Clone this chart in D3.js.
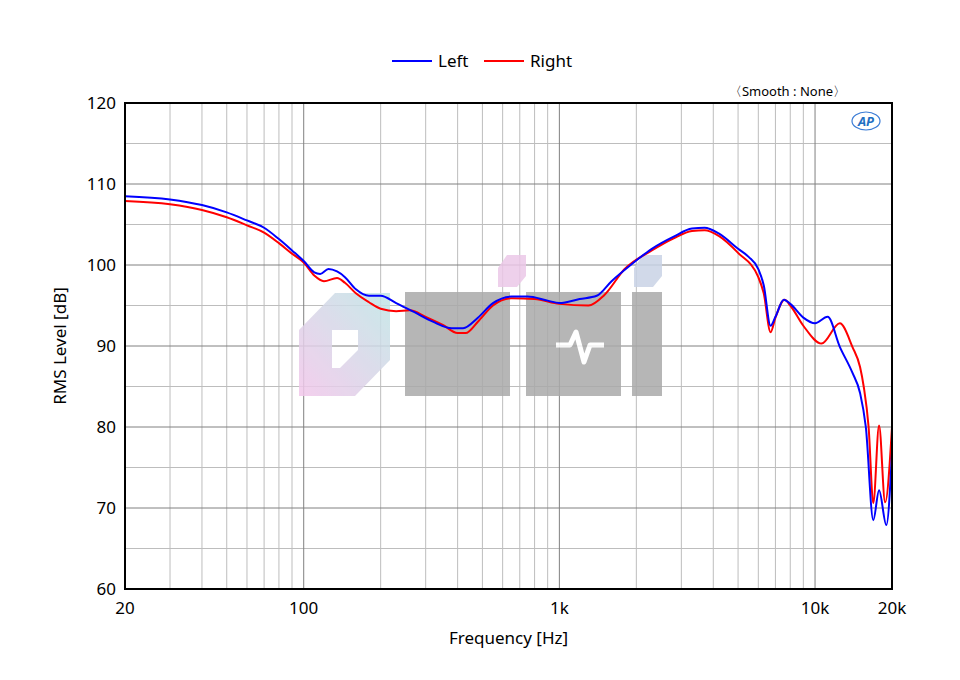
<!DOCTYPE html>
<html>
<head>
<meta charset="utf-8">
<script src="https://cdn.jsdelivr.net/npm/d3@7"></script>
<style>
  body { margin: 0; background: #fff; }
  text { font-family: "Noto Sans", "DejaVu Sans", sans-serif; }
</style>
</head>
<body>
<svg id="chart" width="960" height="680"></svg>
<script>
// Frequency response
var leftFreq = [20, 30, 40, 50, 60, 70, 80, 90, 100, 110, 116, 125, 135, 145, 160, 180, 200, 230, 270, 320, 380, 420, 480, 550, 650, 750, 900, 1000, 1200, 1400, 1600, 1900, 2300, 2800, 3300, 3700, 4200, 5000, 5500, 6000, 6300, 6700, 7000, 7550, 8000, 9000, 10000, 11200, 12500, 14000, 15000, 15800, 16900, 17800, 19000, 20000];
var leftDb = [108.5, 108.1, 107.4, 106.5, 105.5, 104.6, 103.2, 101.8, 100.5, 99.1, 98.9, 99.5, 99.2, 98.5, 97, 96.2, 96.2, 95.3, 94.2, 93, 92.2, 92.2, 93.5, 95.3, 96.1, 96.1, 95.6, 95.3, 95.8, 96.2, 98, 100, 102, 103.5, 104.5, 104.6, 103.9, 102, 101, 99.5, 97.5, 92.5, 93.6, 95.7, 95.2, 93.5, 92.8, 93.6, 89.9, 86.7, 84.2, 80, 68.5, 72.2, 67.9, 76.8];
var rightFreq = [20, 30, 40, 50, 60, 70, 80, 90, 100, 110, 120, 135, 145, 160, 180, 200, 230, 260, 300, 350, 400, 430, 480, 550, 650, 800, 1000, 1300, 1500, 1800, 2300, 2800, 3300, 3700, 4200, 5000, 6000, 6300, 6700, 7000, 7600, 8000, 9000, 10600, 12500, 14000, 15000, 15500, 16200, 16900, 17800, 18800, 20000];
var rightDb = [107.9, 107.5, 106.8, 105.9, 104.9, 104.0, 102.7, 101.4, 100.3, 98.7, 98.0, 98.4, 97.8, 96.5, 95.4, 94.6, 94.3, 94.4, 93.6, 92.6, 91.6, 91.6, 93, 95, 95.9, 95.8, 95.2, 95, 96.3, 99.5, 101.8, 103.3, 104.2, 104.3, 103.6, 101.5, 98.5, 96.5, 91.7, 93.5, 95.7, 95.0, 92.5, 90.3, 92.8, 89.9, 87.4, 85, 80, 70.6, 80.2, 70.7, 80];
var xTicks = [20, 100, 1000, 10000, 20000];
var xTickLabels = ["20", "100", "1k", "10k", "20k"];
var yTicks = [60, 70, 80, 90, 100, 110, 120];

var svg = d3.select("#chart");
var x0 = 125, x1 = 892, y0 = 103, y1 = 589;

var x = d3.scaleLog().domain([20, 20000]).range([x0, x1]);
var y = d3.scaleLinear().domain([60, 120]).range([y1, y0]);

// Minor grid
var minorF = [];
[10, 100, 1000, 10000].forEach(d => {
  for (var m = 2; m <= 9; m++) {
    var f = d * m;
    if (f > 20 && f < 20000) minorF.push(f);
  }
});
svg.selectAll(".vminor").data(minorF).enter().append("line")
  .attr("x1", d => x(d)).attr("x2", d => x(d))
  .attr("y1", y0).attr("y2", y1)
  .attr("stroke", "#bdbdbd").attr("stroke-width", 1);
svg.selectAll(".hminor").data([65, 75, 85, 95, 105, 115]).enter().append("line")
  .attr("x1", x0).attr("x2", x1)
  .attr("y1", d => y(d)).attr("y2", d => y(d))
  .attr("stroke", "#bdbdbd").attr("stroke-width", 1);
// Major grid
svg.selectAll(".vmajor").data([100, 1000, 10000]).enter().append("line")
  .attr("x1", d => x(d)).attr("x2", d => x(d))
  .attr("y1", y0).attr("y2", y1)
  .attr("stroke", "#808080").attr("stroke-width", 1);
svg.selectAll(".hmajor").data([70, 80, 90, 100, 110]).enter().append("line")
  .attr("x1", x0).attr("x2", x1)
  .attr("y1", d => y(d)).attr("y2", d => y(d))
  .attr("stroke", "#808080").attr("stroke-width", 1);

// Watermark
var wm = svg.append("g").attr("opacity", 0.85);
var grad = svg.append("defs").append("linearGradient").attr("id", "pg")
  .attr("x1", "0").attr("y1", "1").attr("x2", "1").attr("y2", "0");
grad.append("stop").attr("offset", "0").attr("stop-color", "#f2c6ea");
grad.append("stop").attr("offset", "1").attr("stop-color", "#bfe6e6");
wm.append("path").attr("d", "M299,330 L335,293 L390,293 L390,360 L355,396 L299,396 Z M332,330 L332,368 L340,368 L358,350 L358,330 Z")
  .attr("fill", "url(#pg)").attr("fill-rule", "evenodd");
wm.append("rect").attr("x", 405).attr("y", 292).attr("width", 105).attr("height", 104).attr("fill", "#aaaaaa");
wm.append("rect").attr("x", 526).attr("y", 292).attr("width", 30).attr("height", 104).attr("fill", "#aaaaaa");
wm.append("rect").attr("x", 541).attr("y", 292).attr("width", 80).attr("height", 104).attr("fill", "#aaaaaa");
wm.append("rect").attr("x", 632).attr("y", 292).attr("width", 30).attr("height", 104).attr("fill", "#aaaaaa");
wm.append("path").attr("d", "M498,268 L507,255 L526,255 L526,276 L517,287 L498,287 Z").attr("fill", "#ecc8e8");
wm.append("path").attr("d", "M634,268 L643,255 L662,255 L662,276 L653,287 L634,287 Z").attr("fill", "#c9d3e6");
wm.append("path").attr("d", "M556,345 L570,345 L576,332 L584,362 L590,345 L604,345")
  .attr("fill", "none").attr("stroke", "#fff").attr("stroke-width", 5).attr("stroke-linejoin", "round");

// Curves
var line = d3.line().x(d => x(d[0])).y(d => y(d[1])).curve(d3.curveMonotoneX);
var clip = svg.append("clipPath").attr("id", "clip").append("rect")
  .attr("x", x0).attr("y", y0).attr("width", x1 - x0).attr("height", y1 - y0);
svg.append("path").datum(d3.zip(rightFreq, rightDb)).attr("d", line)
  .attr("fill", "none").attr("stroke", "#ff0000").attr("stroke-width", 2).attr("clip-path", "url(#clip)");
svg.append("path").datum(d3.zip(leftFreq, leftDb)).attr("d", line)
  .attr("fill", "none").attr("stroke", "#0000ff").attr("stroke-width", 2).attr("clip-path", "url(#clip)");

// Frame
svg.append("rect").attr("x", x0).attr("y", y0).attr("width", x1 - x0).attr("height", y1 - y0)
  .attr("fill", "none").attr("stroke", "#000").attr("stroke-width", 2);

// Tick labels
svg.selectAll(".xt").data(xTicks).enter().append("text")
  .attr("x", d => x(d)).attr("y", y1 + 25).attr("text-anchor", "middle")
  .attr("font-size", 17).text((d, i) => xTickLabels[i]);
svg.selectAll(".yt").data(yTicks).enter().append("text")
  .attr("x", x0 - 9).attr("y", d => y(d) + 6).attr("text-anchor", "end")
  .attr("font-size", 17).text(d => d);

svg.append("text").attr("x", (x0 + x1) / 2).attr("y", 644).attr("text-anchor", "middle")
  .attr("font-size", 17).text("Frequency [Hz]");
svg.append("text").attr("transform", "translate(66," + ((y0 + y1) / 2) + ") rotate(-90)")
  .attr("text-anchor", "middle").attr("font-size", 17).text("RMS Level [dB]");

// Legend
var legend = [["Left", "#0000ff", 392], ["Right", "#ff0000", 484]];
legend.forEach(l => {
  svg.append("line").attr("x1", l[2]).attr("x2", l[2] + 40).attr("y1", 61).attr("y2", 61)
    .attr("stroke", l[1]).attr("stroke-width", 2);
  svg.append("text").attr("x", l[2] + 46).attr("y", 67).attr("font-size", 17).text(l[0]);
});
svg.append("text").attr("x", 846).attr("y", 96).attr("text-anchor", "end")
  .attr("font-size", 13).text("〈Smooth : None〉");

// AP logo
svg.append("ellipse").attr("cx", 866).attr("cy", 121).attr("rx", 14).attr("ry", 9)
  .attr("fill", "none").attr("stroke", "#3a7bd5").attr("stroke-width", 1.2);
svg.append("text").attr("x", 866).attr("y", 126).attr("text-anchor", "middle")
  .attr("font-size", 13).attr("font-style", "italic").attr("font-weight", "bold")
  .attr("fill", "#1f6fc2").text("AP");
</script>
</body>
</html>
